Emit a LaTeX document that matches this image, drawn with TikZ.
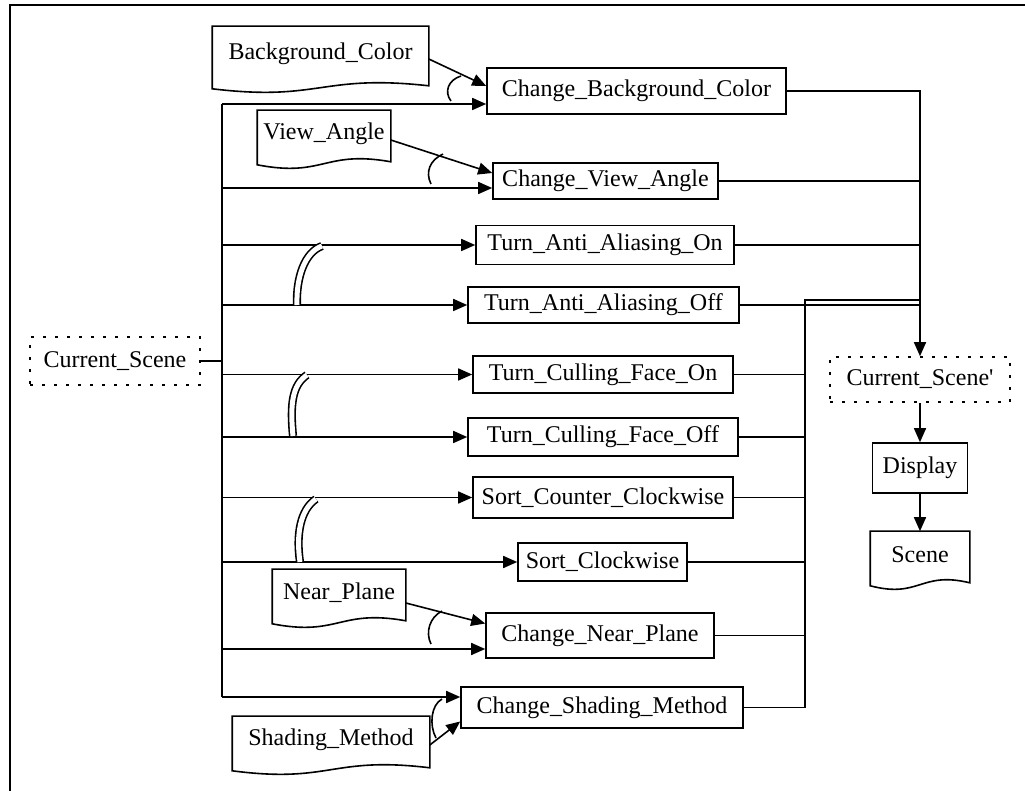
\documentclass[tikz,border=0pt]{standalone}
\usepackage{fontspec}
\setmainfont{Liberation Serif}
\usepackage{tikz}
\usetikzlibrary{arrows.meta, calc}

% outline of a stored-data node: flat top, wavy bottom
\newcommand{\docoutline}[1]{%
  \draw (#1.north west) -- (#1.north east) -- ($(#1.south east)+(0,4)$)
    .. controls ($(#1.south)+(0,-8)$) and ($(#1.south)+(0,20)$) .. ($(#1.south west)+(0,7)$) -- cycle;}

\begin{document}
\begin{tikzpicture}[x=0.5pt, y=-0.5pt, line width=0.8pt]
        \tikzstyle{proc} = [rectangle, draw, inner sep=0pt, font=\fontsize{12}{14}\selectfont]
        \tikzstyle{store} = [rectangle, inner sep=0pt, font=\fontsize{12}{14}\selectfont]
        \tikzstyle{scene} = [rectangle, draw, dash pattern=on 1.5pt off 4.5pt, inner sep=0pt, font=\fontsize{12}{14}\selectfont]
        \tikzstyle{arrow} = [-{Triangle[length=7pt,width=6pt]}]
        \tikzstyle{alt} = [double, double distance=2.5pt]

        \useasboundingbox (0,0) rectangle (1025,791);
        \draw [line width=1pt] (10,791) -- (10,5) -- (1025,5);

        \node [store, minimum width=107.5pt, minimum height=27pt] (bgcolor) at (320.5,54) {Background\_Color};
        \node [proc, minimum width=149.5pt, minimum height=23pt] (cbg) at (636.5,91) {Change\_Background\_Color};
        \node [store, minimum width=66pt, minimum height=23pt] (viewangle) at (324,134) {View\_Angle};
        \node [proc, minimum width=112.5pt, minimum height=18pt] (cva) at (605.5,181) {Change\_View\_Angle};
        \node [proc, minimum width=129pt, minimum height=19.5pt] (taaon) at (605,245) {Turn\_Anti\_Aliasing\_On};
        \node [proc, minimum width=135.5pt, minimum height=18pt] (taaoff) at (603.5,305) {Turn\_Anti\_Aliasing\_Off};
        \node [scene, minimum width=85pt, minimum height=24pt] (cs) at (115,361) {Current\_Scene};
        \node [proc, minimum width=130pt, minimum height=18.5pt] (tcfon) at (603,374.5) {Turn\_Culling\_Face\_On};
        \node [proc, minimum width=135pt, minimum height=19pt] (tcfoff) at (603,437) {Turn\_Culling\_Face\_Off};
        \node [proc, minimum width=130pt, minimum height=20.5pt] (scc) at (603,497.5) {Sort\_Counter\_Clockwise};
        \node [proc, minimum width=84.5pt, minimum height=19pt] (sc) at (602.5,562) {Sort\_Clockwise};
        \node [store, minimum width=66pt, minimum height=23pt] (nearplane) at (339,593) {Near\_Plane};
        \node [proc, minimum width=114pt, minimum height=22.5pt] (cnp) at (600,635.5) {Change\_Near\_Plane};
        \node [proc, minimum width=141pt, minimum height=20.5pt] (csm) at (602,707.5) {Change\_Shading\_Method};
        \node [store, minimum width=98pt, minimum height=23pt] (shading) at (331,740) {Shading\_Method};
        \node [scene, minimum width=90pt, minimum height=22.5pt] (csp) at (920,379.5) {Current\_Scene\textquotesingle};
        \node [proc, minimum width=47.5pt, minimum height=25pt] (display) at (920,468) {Display};
        \node [store, minimum width=49pt, minimum height=23pt] (scenefile) at (920,555) {Scene};

        \docoutline{bgcolor}
        \docoutline{viewangle}
        \docoutline{nearplane}
        \docoutline{shading}
        \docoutline{scenefile}

        % bus from Current_Scene
        \coordinate (jbg) at (222,104);
        \coordinate (jva) at (222,188);
        \coordinate (jnp) at (222,649);
        \coordinate (jsm) at (222,697);
        \coordinate (jlow) at (805,300);

        \draw (jbg) -- (jsm);
        \draw (cs.east) -- (jbg |- cs.east);
        \draw [arrow] (jbg) -- (cbg.west |- jbg);
        \draw [arrow] ([yshift=-2.5pt]bgcolor.east) -- ([yshift=2.5pt]cbg.west);
        \draw [arrow] (jva) -- (cva.west |- jva);
        \draw [arrow] ([yshift=-3pt]viewangle.east) -- ([yshift=4pt]cva.west);
        \draw [arrow] (jbg |- taaon.west) -- (taaon.west);
        \draw [arrow] (jbg |- taaoff.west) -- (taaoff.west);
        \draw [arrow] (jbg |- tcfon.west) -- (tcfon.west);
        \draw [arrow] (jbg |- tcfoff.west) -- (tcfoff.west);
        \draw [arrow] (jbg |- scc.west) -- (scc.west);
        \draw [arrow] (jbg |- sc.west) -- (sc.west);
        \draw [arrow] (jnp) -- (cnp.west |- jnp);
        \draw [arrow] ([yshift=-5pt]nearplane.east) -- ([yshift=6pt]cnp.west);
        \draw [arrow] (jsm) -- (csm.west |- jsm);
        \draw [arrow] ([yshift=-2.5pt]shading.east) -- ([yshift=-7pt]csm.west);

        % choice arcs
        \draw (451,101) .. controls (444,92) and (448,80) .. (461,76);
        \draw (431,184) .. controls (425,172) and (430,160) .. (443,154);
        \draw (431,644) .. controls (425,632) and (430,617) .. (442,611);
        \draw (436,738) .. controls (429,725) and (431,705) .. (442,699);
        \draw [alt] (297,305) .. controls (296,277) and (305,252) .. (322,246);
        \draw [alt] (293,436) .. controls (290,405) and (292,385) .. (307,375);
        \draw [alt] (300,562) .. controls (296,535) and (300,510) .. (316,499);

        % collectors on the right
        \draw [arrow] (cbg.east) -| (csp.north);
        \draw (cva.east) -- (cva.east -| csp.north);
        \draw (taaon.east) -- (taaon.east -| csp.north);
        \draw (taaoff.east) -- (taaoff.east -| csp.north);
        \draw (csm.east) -| (jlow) -- (jlow -| csp.north);
        \draw (tcfon.east) -- (tcfon.east -| jlow);
        \draw (tcfoff.east) -- (tcfoff.east -| jlow);
        \draw (scc.east) -- (scc.east -| jlow);
        \draw (sc.east) -- (sc.east -| jlow);
        \draw (cnp.east) -- (cnp.east -| jlow);

        \draw [arrow] (csp) -- (display);
        \draw [arrow] (display) -- (scenefile);
    \end{tikzpicture}
\end{document}
